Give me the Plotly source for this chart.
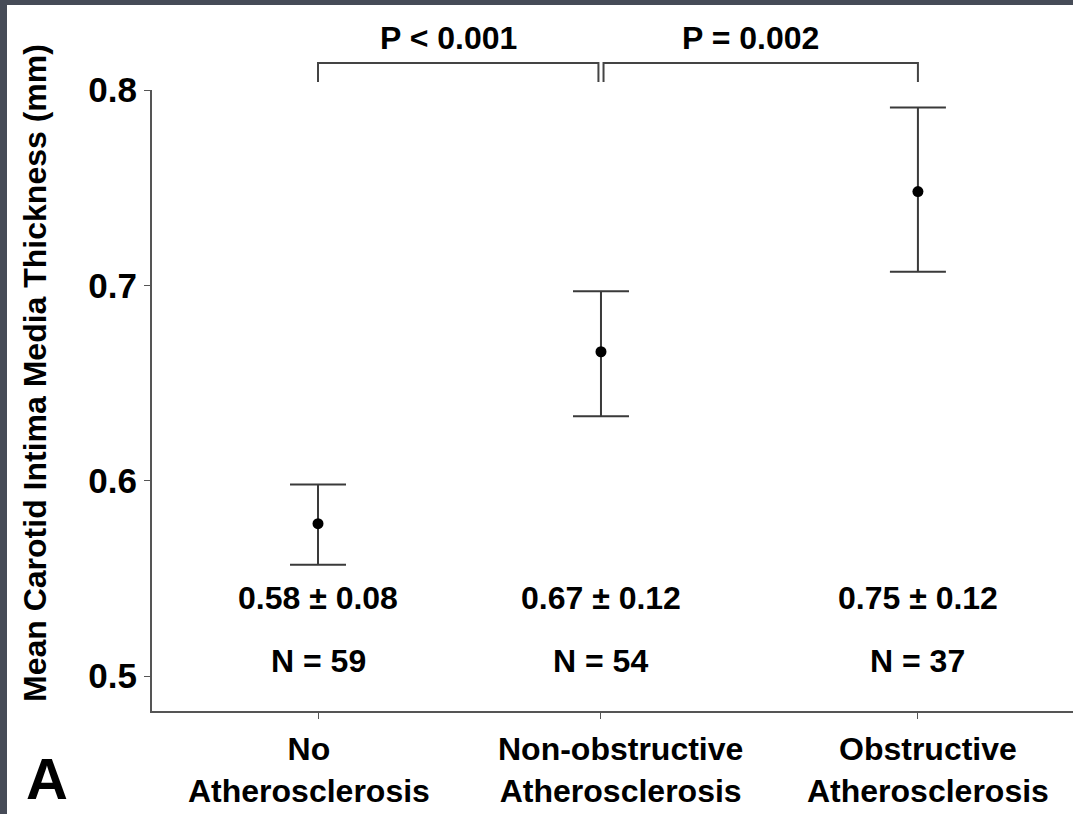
import plotly.graph_objects as go

# Groups, means, SD and 95% CI of carotid IMT (mm)
groups = ["No<br>Atherosclerosis", "Non-obstructive<br>Atherosclerosis", "Obstructive<br>Atherosclerosis"]
means = [0.578, 0.666, 0.748]
sds = [0.08, 0.12, 0.12]
ci_low = [0.557, 0.633, 0.707]
ci_high = [0.598, 0.697, 0.791]
counts = [59, 54, 37]
p_labels = ["P < 0.001", "P = 0.002"]
y_ticks = [0.5, 0.6, 0.7, 0.8]

# horizontal placement of the three groups on the x axis
x_pos = [1.0, 2.0, 3.12]
# small horizontal nudges (px) for the group captions under the axis
caption_shift = [-9, 20, 10]

FONT = "Liberation Sans, Arial, Helvetica, sans-serif"
AXIS_COL = "#555555"

fig = go.Figure()
fig.add_trace(go.Scatter(
    x=x_pos, y=means, mode="markers",
    marker=dict(color="black", size=11),
    error_y=dict(
        type="data", symmetric=False,
        array=[h - m for h, m in zip(ci_high, means)],
        arrayminus=[m - l for m, l in zip(means, ci_low)],
        color="#3a3a3a", thickness=2, width=28,
    ),
    showlegend=False, cliponaxis=False,
))

annotations = []
for x, m, s, n in zip(x_pos, means, sds, counts):
    annotations.append(dict(x=x, y=0.540, xref="x", yref="y", text=f"<b>{m:.2f} ± {s:.2f}</b>",
                            xanchor="center", yanchor="middle", showarrow=False,
                            font=dict(size=32, color="black", family=FONT)))
    annotations.append(dict(x=x, y=0.5076, xref="x", yref="y", text=f"<b>N = {n}</b>",
                            xanchor="center", yanchor="middle", showarrow=False,
                            font=dict(size=32, color="black", family=FONT)))

# group captions below the x axis
for x, g, dx in zip(x_pos, groups, caption_shift):
    annotations.append(dict(x=x, y=(711 - 770) / 621, xref="x", yref="paper",
                            text=f"<b>{g}</b>", xanchor="center", yanchor="middle",
                            align="center", xshift=dx, showarrow=False,
                            font=dict(size=32, color="black", family=FONT)))

# significance brackets between neighbouring groups
gap = 0.009
pairs = [(x_pos[0], x_pos[1] - gap), (x_pos[1] + gap, x_pos[2])]
shapes = []
for (xa, xb), lab in zip(pairs, p_labels):
    shapes.append(dict(type="path", xref="x", yref="paper",
                       path=f"M {xa},1.0129 L {xa},1.0435 L {xb},1.0435 L {xb},1.0129",
                       line=dict(color="#444444", width=2)))
    annotations.append(dict(x=(xa + xb) / 2 - 0.035, y=1.0837, xref="x", yref="paper",
                            text=f"<b>{lab}</b>", xanchor="center", yanchor="middle",
                            showarrow=False, font=dict(size=32, color="black", family=FONT)))

# y axis title
annotations.append(dict(x=(35 - 152) / 921, y=(711 - 373) / 621, xref="paper", yref="paper",
                        textangle=-90, xanchor="center", yanchor="middle",
                        text="<b>Mean Carotid Intima Media Thickness (mm)</b>", showarrow=False,
                        font=dict(size=32, color="black", family=FONT)))
# panel letter
annotations.append(dict(x=(47 - 152) / 921, y=(711 - 778) / 621, xref="paper", yref="paper",
                        text="<b>A</b>", xanchor="center", yanchor="middle",
                        showarrow=False, font=dict(size=58, color="black", family=FONT)))

# dark frame along the top and left edges
frame = "#464b57"
shapes.append(dict(type="rect", xref="paper", yref="paper", x0=-0.2, x1=1.05,
                   y0=(711 - 5) / 621, y1=1.2, fillcolor=frame, line_width=0, layer="above"))
shapes.append(dict(type="rect", xref="paper", yref="paper", x0=-0.2, x1=(7 - 152) / 921,
                   y0=-0.3, y1=1.2, fillcolor=frame, line_width=0, layer="above"))

fig.update_layout(
    width=1073, height=814,
    margin=dict(l=152, r=0, t=90, b=103),
    paper_bgcolor="white", plot_bgcolor="white",
    annotations=annotations, shapes=shapes,
    font=dict(family=FONT, color="black"),
    xaxis=dict(range=[0.4134, 3.668], tickvals=x_pos, showticklabels=False,
               showline=True, linecolor=AXIS_COL, linewidth=2,
               ticks="outside", ticklen=6, tickcolor=AXIS_COL, tickwidth=1,
               showgrid=False, zeroline=False),
    yaxis=dict(range=[0.4821, 0.8], tickvals=y_ticks,
               ticktext=[f"<b>{v:.1f}</b>" for v in y_ticks],
               showline=True, linecolor=AXIS_COL, linewidth=2,
               ticks="outside", ticklen=6, tickcolor=AXIS_COL, tickwidth=1,
               showgrid=False, zeroline=False,
               tickfont=dict(size=35, color="black", family=FONT)),
)

fig.write_html("out.html")
